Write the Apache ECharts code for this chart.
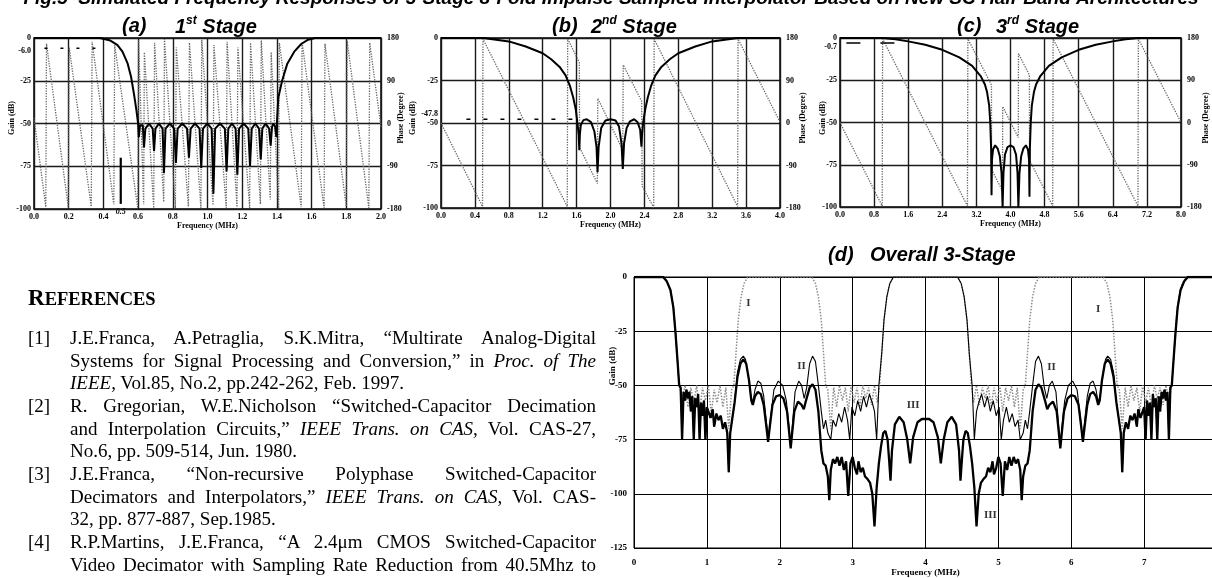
<!DOCTYPE html>
<html>
<head>
<meta charset="utf-8">
<title>Fig.5 Simulated Frequency Responses</title>
<script src="https://cdn.jsdelivr.net/npm/echarts@6/dist/echarts.min.js"></script>
<style>
  html, body { margin: 0; padding: 0; background: #fff; }
  #chart { position: absolute; left: 0; top: 0; width: 1212px; height: 578px; }
  #refs { position: absolute; left: 0; top: 0; font-family: "Liberation Serif", "Times New Roman", serif; color: #000; }
  #refs .hd { position: absolute; left: 28px; top: 284px; font-weight: bold; font-size: 18.5px; line-height: 28px; white-space: nowrap; }
  #refs .hd span { font-size: 23px; }
  #refs .num { position: absolute; left: 28px; font-size: 19px; line-height: 22.67px; }
  #refs .ln { position: absolute; left: 70px; width: 526px; height: 22.67px; font-size: 19px; line-height: 22.67px; text-align: justify; }
  #refs .ln.j { text-align-last: justify; }
</style>
</head>
<body>
<div id="chart"></div>
<div id="refs">
  <div class="hd"><span>R</span>EFERENCES</div>
  <div class="num" style="top:327px">[1]</div>
  <div class="ln j" style="top:327px">J.E.Franca, A.Petraglia, S.K.Mitra, “Multirate Analog-Digital</div>
  <div class="ln j" style="top:349.7px">Systems for Signal Processing and Conversion,” in <i>Proc. of The</i></div>
  <div class="ln" style="top:372.3px"><i>IEEE</i>, Vol.85, No.2, pp.242-262, Feb. 1997.</div>
  <div class="num" style="top:395px">[2]</div>
  <div class="ln j" style="top:395px">R. Gregorian, W.E.Nicholson “Switched-Capacitor Decimation</div>
  <div class="ln j" style="top:417.7px">and Interpolation Circuits,” <i>IEEE Trans. on CAS</i>, Vol. CAS-27,</div>
  <div class="ln" style="top:440.3px">No.6, pp. 509-514, Jun. 1980.</div>
  <div class="num" style="top:463px">[3]</div>
  <div class="ln j" style="top:463px">J.E.Franca, “Non-recursive Polyphase Switched-Capacitor</div>
  <div class="ln j" style="top:485.7px">Decimators and Interpolators,” <i>IEEE Trans. on CAS</i>, Vol. CAS-</div>
  <div class="ln" style="top:508.3px">32, pp. 877-887, Sep.1985.</div>
  <div class="num" style="top:531px">[4]</div>
  <div class="ln j" style="top:531px">R.P.Martins, J.E.Franca, “A 2.4μm CMOS Switched-Capacitor</div>
  <div class="ln j" style="top:553.7px">Video Decimator with Sampling Rate Reduction from 40.5Mhz to</div>
</div>
<script>
// values: [frequency (MHz), gain (dB) or phase (degree)]

// (a) 1st stage
const gainA = [[0,0],[0.38,0],[0.44,-1.5],[0.48,-4],[0.51,-8],[0.54,-15],[0.56,-23],[0.575,-32],[0.59,-42],[0.6,-50],
  [0.604,-58],[0.611,-51],[0.619,-50],[0.627,-51],[0.634,-64],[0.642,-53],[0.663,-50],[0.684,-53],[0.692,-66],[0.7,-53],
  [0.72,-50],[0.741,-53],[0.749,-79],[0.758,-53],[0.783,-50],[0.808,-53],[0.818,-73],[0.828,-53],[0.855,-50],[0.882,-53],
  [0.893,-70],[0.903,-53],[0.928,-50],[0.954,-53],[0.964,-76],[0.974,-53],[0.999,-50],[1.024,-53],[1.034,-91],[1.044,-53],
  [1.072,-50],[1.1,-53],[1.11,-78],[1.12,-53],[1.141,-50],[1.162,-53],[1.172,-80],[1.182,-53],[1.208,-50],[1.235,-53],
  [1.245,-75],[1.255,-53],[1.276,-50],[1.297,-53],[1.307,-71],[1.316,-53],[1.335,-50],[1.355,-53],[1.364,-63],[1.372,-52],
  [1.38,-50],[1.39,-52],[1.397,-58],[1.4,-50],[1.408,-35],[1.43,-25],[1.46,-15],[1.5,-8],[1.54,-3.5],[1.58,-1],[1.62,0],[2,0]];
const phaseA = [[0,12],[0.068,-176],[0.072,168],[0.198,-178],[0.203,160],[0.33,-175],[0.335,172],[0.46,-170],
  [0.465,165],[0.598,-178],[0.603,175],[0.632,-170],[0.636,150],[0.69,-178],[0.695,170],[0.748,-165],[0.752,178],
  [0.815,-178],[0.82,160],[0.89,-175],[0.896,170],[0.962,-178],[0.967,176],[1.032,-172],[1.037,165],[1.108,-178],
  [1.113,172],[1.17,-176],[1.175,160],[1.243,-178],[1.248,170],[1.305,-170],[1.31,175],[1.362,-160],[1.367,150],
  [1.41,-178],[1.414,170],[1.54,-176],[1.545,172],[1.672,-178],[1.677,168],[1.8,-175],[1.805,174],[1.93,-178],
  [1.935,170],[2,-8]];
const levelA = [[0.06,-6],[0.4,-6]];
const markA = [[0.5,-70],[0.5,-97]];

// (b) 2nd stage
const gainB = [[0,0],[0.5,0],[0.8,-2],[1,-5],[1.2,-9],[1.3,-12.5],[1.4,-17],[1.47,-22],[1.52,-28],[1.56,-35],[1.59,-42],
  [1.61,-50],[1.625,-57],[1.632,-66],[1.638,-57],[1.65,-51],[1.68,-48.3],[1.72,-47.8],[1.77,-49.5],[1.81,-55],[1.835,-64],
  [1.847,-79],[1.86,-64],[1.89,-53],[1.94,-48.5],[2,-47.8],[2.06,-48.5],[2.1,-52],[2.13,-62],[2.145,-77],[2.16,-62],
  [2.19,-53],[2.23,-49],[2.28,-47.8],[2.32,-49.5],[2.35,-54],[2.365,-64],[2.372,-57],[2.385,-50],[2.41,-42],[2.44,-35],
  [2.48,-28],[2.53,-22],[2.6,-17],[2.7,-12.5],[2.8,-9],[3,-5],[3.2,-2],[3.5,0],[4,0]];
const phaseB = [[0,0],[0.49,-177],[0.495,178],[1.49,-177],[1.495,178],[1.632,128],[1.636,-52],[1.845,-128],[1.85,52],
  [2.145,-57],[2.15,123],[2.368,46],[2.374,-134],[2.51,-179],[2.515,178],[3.5,-177],[3.505,178],[4,2]];
const levelB = [[0.3,-47.8],[1.55,-47.8]];

// (c) 3rd stage
const gainC = [[0,0],[1,0],[1.3,-0.8],[1.6,-2],[2,-4],[2.4,-7],[2.8,-11.5],[3.1,-16.5],[3.3,-22.5],[3.4,-27.5],[3.45,-32],
  [3.5,-40],[3.525,-50],[3.545,-65],[3.555,-93],[3.565,-72],[3.59,-66],[3.64,-63.5],[3.7,-65.5],[3.75,-70],[3.79,-80],
  [3.815,-100],[3.835,-80],[3.87,-69],[3.93,-64.5],[4,-63.5],[4.07,-64.5],[4.13,-69],[4.165,-80],[4.185,-100],[4.21,-80],
  [4.25,-70],[4.3,-65.5],[4.36,-63.5],[4.41,-66],[4.435,-72],[4.445,-94],[4.455,-65],[4.475,-50],[4.5,-40],[4.55,-32],
  [4.6,-27.5],[4.7,-22.5],[4.9,-16.5],[5.2,-11.5],[5.6,-7],[6,-4],[6.4,-2],[6.7,-0.8],[7,0],[8,0]];
const phaseC = [[0,0],[0.99,-178],[1,178],[2.99,-178],[3,178],[3.553,80],[3.557,-100],[3.813,-146],[3.817,34],
  [4.183,-32],[4.187,147],[4.443,101],[4.447,-80],[4.99,-178],[5,178],[6.99,-178],[7,178],[8,0]];
const levelC = [[0.15,-3],[1.35,-3]];

// extra level labels written on the gain axes
const levelText = ['-6.0', '-47.8', '-0.7'];
const levelValue = [-6, -47.8, -0.7];

// (d) overall 3-stage: I = 1st stage, II = 1st x 2nd, III = all three
const overallI = [[0,0],[0.4,0],[0.45,-2],[0.5,-6],[0.54,-14],[0.57,-26],[0.6,-40],[0.62,-50],
  [0.66,-56],[0.7,-50],[0.74,-60],[0.78,-51],[0.82,-58],[0.86,-50],[0.9,-62],[0.94,-51],[0.98,-57],[1.02,-50],[1.06,-63],
  [1.1,-52],[1.14,-58],[1.18,-50],[1.22,-60],[1.26,-51],[1.3,-70],[1.34,-52],[1.37,-50],
  [1.4,-35],[1.43,-20],[1.47,-9],[1.51,-3],[1.56,0],[2.44,0],[2.49,-3],[2.53,-9],[2.57,-20],[2.6,-35],[2.63,-50],
  [2.66,-52],[2.7,-70],[2.74,-51],[2.78,-60],[2.82,-50],[2.86,-57],[2.9,-51],[2.94,-62],[2.98,-50],[3.02,-58],[3.06,-51],
  [3.1,-60],[3.14,-50],[3.18,-56],[3.22,-51],[3.26,-59],[3.3,-50],[3.34,-58],[3.37,-50],
  [3.4,-35],[3.43,-20],[3.47,-9],[3.51,-3],[3.56,0],[4.44,0],[4.49,-3],[4.53,-9],[4.57,-20],[4.6,-35],[4.63,-50],
  [4.66,-58],[4.7,-50],[4.74,-59],[4.78,-51],[4.82,-56],[4.86,-50],[4.9,-60],[4.94,-51],[4.98,-58],[5.02,-50],[5.06,-62],
  [5.1,-51],[5.14,-57],[5.18,-50],[5.22,-60],[5.26,-51],[5.3,-70],[5.34,-52],[5.37,-50],
  [5.4,-35],[5.43,-20],[5.47,-9],[5.51,-3],[5.56,0],[6.44,0],[6.49,-3],[6.53,-9],[6.57,-20],[6.6,-35],[6.63,-50],
  [6.66,-52],[6.7,-70],[6.74,-51],[6.78,-60],[6.82,-50],[6.86,-57],[6.9,-51],[6.94,-62],[6.98,-50],[7.02,-58],[7.06,-51],
  [7.1,-60],[7.14,-50],[7.18,-56],[7.22,-51],[7.26,-59],[7.3,-50],[7.34,-58],[7.38,-50],
  [7.41,-35],[7.44,-20],[7.48,-9],[7.52,-3],[7.58,0],[8,0]];
const overallII = [[0,0],[0.4,0],[0.45,-2],[0.5,-6],[0.54,-14],[0.57,-26],[0.6,-40],[0.62,-50],[0.64,-51],[0.66,-75],
  [0.68,-53],[0.7,-57],[0.72,-52],[0.74,-56],[0.76,-53],[0.78,-62],[0.8,-55],[0.82,-75],[0.84,-56],[0.86,-60],[0.88,-54],
  [0.9,-75],[0.92,-58],[0.94,-64],[0.96,-57],[0.98,-75],[1,-60],[1.02,-62],[1.05,-65],[1.08,-61],[1.1,-69],[1.13,-63],
  [1.16,-66],[1.19,-64],[1.22,-70],[1.25,-67],[1.28,-72],[1.3,-90],[1.32,-72],[1.35,-65],[1.38,-58],
  [1.42,-44],[1.46,-38],[1.5,-36.5],[1.53,-38],[1.57,-46],[1.6,-54],[1.63,-58],[1.66,-52],[1.7,-48],[1.74,-49],[1.78,-55],
  [1.82,-68],[1.845,-75],[1.87,-66],[1.92,-52],[1.98,-48],[2.04,-50],[2.09,-57],[2.13,-70],[2.15,-78],[2.17,-70],[2.21,-53],
  [2.26,-48],[2.3,-50],[2.335,-56],[2.37,-51],[2.41,-40],[2.45,-36.5],[2.49,-39],[2.53,-50],[2.57,-62],[2.6,-70],[2.63,-66],
  [2.66,-72],[2.7,-75],[2.73,-66],[2.77,-69],[2.81,-63],[2.85,-67],[2.89,-60],[2.93,-66],[2.96,-75],[2.99,-60],[3.03,-64],
  [3.07,-57],[3.11,-62],[3.15,-55],[3.19,-60],[3.23,-54],[3.27,-58],[3.3,-62],[3.33,-75],[3.36,-50],[3.4,-35],[3.43,-20],
  [3.47,-9],[3.51,-3],[3.56,0],[4.44,0],[4.49,-3],[4.53,-9],[4.57,-20],[4.6,-35],[4.64,-50],[4.67,-75],[4.7,-62],[4.73,-58],
  [4.77,-54],[4.81,-60],[4.85,-55],[4.89,-62],[4.93,-57],[4.97,-64],[5.01,-60],[5.04,-75],[5.07,-66],[5.11,-60],[5.15,-67],
  [5.19,-63],[5.23,-69],[5.27,-66],[5.3,-75],[5.34,-72],[5.37,-66],[5.4,-70],[5.43,-62],[5.47,-50],[5.51,-39],[5.55,-36.5],
  [5.59,-40],[5.63,-51],[5.665,-56],[5.7,-50],[5.74,-48],[5.79,-53],[5.83,-70],[5.85,-78],[5.87,-70],[5.91,-57],[5.96,-50],
  [6.02,-48],[6.08,-52],[6.13,-66],[6.155,-75],[6.18,-68],[6.22,-55],[6.26,-49],[6.3,-48],[6.34,-52],[6.37,-58],[6.4,-54],
  [6.43,-46],[6.47,-38],[6.5,-36.5],[6.54,-38],[6.58,-44],[6.62,-58],[6.65,-65],[6.68,-72],[6.7,-90],[6.72,-72],[6.75,-67],
  [6.78,-70],[6.81,-64],[6.84,-66],[6.87,-63],[6.9,-69],[6.92,-61],[6.95,-65],[6.98,-62],[7,-60],[7.02,-75],[7.04,-57],
  [7.06,-64],[7.08,-58],[7.1,-75],[7.12,-54],[7.14,-60],[7.16,-56],[7.18,-75],[7.2,-55],[7.22,-62],[7.24,-53],[7.26,-56],
  [7.28,-52],[7.3,-57],[7.32,-53],[7.34,-75],[7.36,-51],[7.38,-50],[7.4,-40],[7.43,-26],[7.46,-14],[7.5,-6],[7.55,-2],
  [7.6,0],[8,0]];
const overallIII = [[0,0],[0.4,0],[0.45,-2],[0.5,-6],[0.54,-14],[0.57,-26],[0.6,-40],[0.62,-50],[0.64,-51],[0.66,-75],
  [0.68,-53],[0.7,-57],[0.72,-52],[0.74,-56],[0.76,-53],[0.78,-62],[0.8,-55],[0.82,-75],[0.84,-56],[0.86,-60],[0.88,-54],
  [0.9,-75],[0.92,-58],[0.94,-64],[0.96,-57],[0.98,-75],[1,-60],[1.02,-62],[1.05,-65],[1.08,-61],[1.1,-69],[1.13,-63],
  [1.16,-66],[1.19,-64],[1.22,-70],[1.25,-67],[1.28,-72],[1.3,-90],[1.32,-72],[1.35,-65],[1.38,-58],[1.42,-46],[1.46,-40],
  [1.5,-38],[1.54,-40],[1.58,-48],[1.61,-57],[1.63,-59],[1.66,-55],[1.7,-53],[1.74,-54],[1.78,-59],[1.82,-70],[1.84,-76],
  [1.86,-70],[1.9,-59],[1.95,-55],[2,-54.5],[2.05,-56],[2.1,-62],[2.13,-72],[2.15,-79],[2.17,-72],[2.2,-62],[2.25,-57.5],
  [2.3,-59],[2.33,-61],[2.36,-57],[2.41,-51],[2.45,-49.5],[2.49,-52],[2.53,-62],[2.57,-80],[2.6,-86],[2.63,-87],[2.66,-92],
  [2.68,-103],[2.7,-89],[2.73,-84],[2.76,-86],[2.79,-83],[2.82,-87],[2.85,-83],[2.88,-89],[2.91,-85],[2.94,-101],[2.97,-86],
  [3,-83],[3.03,-88],[3.06,-91],[3.08,-85],[3.11,-90],[3.14,-88],[3.17,-92],[3.2,-93],[3.24,-95],[3.27,-100],[3.3,-115],
  [3.33,-97],[3.36,-86],[3.39,-78],[3.42,-72],[3.45,-71],[3.48,-75],[3.5,-84],[3.52,-94],[3.54,-80],[3.58,-68],[3.64,-64.5],
  [3.7,-67],[3.75,-75],[3.79,-86],[3.83,-74],[3.89,-67],[3.95,-65.5],[4,-65.5],[4.05,-65.5],[4.11,-67],[4.17,-74],[4.21,-86],
  [4.25,-75],[4.3,-67],[4.36,-64.5],[4.42,-68],[4.46,-80],[4.48,-94],[4.5,-84],[4.52,-75],[4.55,-71],[4.58,-72],[4.61,-78],
  [4.64,-86],[4.67,-97],[4.7,-115],[4.73,-100],[4.76,-95],[4.8,-93],[4.83,-92],[4.86,-88],[4.89,-90],[4.92,-85],[4.94,-91],
  [4.97,-88],[5,-83],[5.03,-86],[5.06,-101],[5.09,-85],[5.12,-89],[5.15,-83],[5.18,-87],[5.21,-83],[5.24,-86],[5.27,-84],
  [5.3,-89],[5.32,-103],[5.34,-92],[5.37,-87],[5.4,-86],[5.43,-80],[5.47,-62],[5.51,-52],[5.55,-49.5],[5.59,-51],[5.64,-57],
  [5.67,-61],[5.7,-59],[5.75,-57.5],[5.8,-62],[5.83,-72],[5.85,-79],[5.87,-72],[5.9,-62],[5.95,-56],[6,-54.5],[6.05,-55],
  [6.1,-59],[6.14,-70],[6.16,-76],[6.18,-70],[6.22,-59],[6.26,-54],[6.3,-53],[6.34,-55],[6.37,-59],[6.39,-57],[6.42,-48],
  [6.46,-40],[6.5,-38],[6.54,-40],[6.58,-46],[6.62,-58],[6.65,-65],[6.68,-72],[6.7,-90],[6.72,-72],[6.75,-67],[6.78,-70],
  [6.81,-64],[6.84,-66],[6.87,-63],[6.9,-69],[6.92,-61],[6.95,-65],[6.98,-62],[7,-60],[7.02,-75],[7.04,-57],[7.06,-64],
  [7.08,-58],[7.1,-75],[7.12,-54],[7.14,-60],[7.16,-56],[7.18,-75],[7.2,-55],[7.22,-62],[7.24,-53],[7.26,-56],[7.28,-52],
  [7.3,-57],[7.32,-53],[7.34,-75],[7.36,-51],[7.38,-50],[7.4,-40],[7.43,-26],[7.46,-14],[7.5,-6],[7.55,-2],[7.6,0],[8,0]];
const curveTags = ['I', 'I', 'II', 'II', 'III', 'III'];
const curveTagAt = [[1.57,-12],[6.37,-15],[2.3,-41],[5.73,-41.5],[3.83,-59],[4.89,-110]];

const titleText = 'Fig.5  Simulated Frequency Responses of 3-Stage 8-Fold Impulse Sampled Interpolator Based on New SC Half-Band Architectures';

const serif = '"Liberation Serif", "Times New Roman", serif';
const sans = '"Liberation Sans", Arial, sans-serif';
const tickFont = { fontFamily: serif, fontWeight: 'bold', fontSize: 8, color: '#000' };

const chart = echarts.init(document.getElementById('chart'));

const stages = [
  { box: { left: 34, top: 38, width: 347, height: 171 }, max: 2, step: 0.2, gain: gainA, phase: phaseA, level: levelA, dash: [3, 13] },
  { box: { left: 441, top: 38, width: 339, height: 170 }, max: 4, step: 0.4, gain: gainB, phase: phaseB, level: levelB, dash: [4, 13] },
  { box: { left: 840, top: 38, width: 341, height: 169 }, max: 8, step: 0.8, gain: gainC, phase: phaseC, level: levelC, dash: [14, 20] }
];

const grid = [], xAxis = [], yAxis = [], series = [];

stages.forEach((s, i) => {
  grid.push(Object.assign({ show: true, borderColor: '#000', borderWidth: 1.5, outerBoundsMode: 'none' }, s.box));
  xAxis.push({
    gridIndex: i, type: 'value', min: 0, max: s.max, interval: s.step,
    axisLine: { show: false }, axisTick: { show: false },
    splitLine: { show: true, lineStyle: { color: '#1a1a1a', width: 1.4 } },
    axisLabel: Object.assign({ margin: 4, formatter: v => v.toFixed(1) }, tickFont),
    name: 'Frequency (MHz)', nameLocation: 'middle', nameGap: 11, nameTextStyle: tickFont
  });
  yAxis.push({
    gridIndex: i, type: 'value', min: -100, max: 0, interval: 25, position: 'left',
    axisLine: { show: false }, axisTick: { show: false },
    splitLine: { show: true, lineStyle: { color: '#1a1a1a', width: 1.4 } },
    axisLabel: Object.assign({ margin: 3 }, tickFont)
  });
  yAxis.push({
    gridIndex: i, type: 'value', min: -180, max: 180, interval: 90, position: 'right',
    axisLine: { show: false }, axisTick: { show: false }, splitLine: { show: false },
    axisLabel: Object.assign({ margin: 6 }, tickFont)
  });
  series.push({
    type: 'line', xAxisIndex: i, yAxisIndex: 2 * i + 1, data: s.phase, symbol: 'none', silent: true,
    lineStyle: { color: '#666', width: 1.3, type: 'dotted' }
  });
  series.push({
    type: 'line', xAxisIndex: i, yAxisIndex: 2 * i, data: s.level, symbol: 'none', silent: true,
    lineStyle: { color: '#000', width: 1.5, type: s.dash }
  });
  series.push({
    type: 'line', xAxisIndex: i, yAxisIndex: 2 * i, data: s.gain, symbol: 'none', silent: true,
    lineStyle: { color: '#000', width: 2 }
  });
});

series.push({
  type: 'line', xAxisIndex: 0, yAxisIndex: 0, data: markA, symbol: 'none', silent: true,
  lineStyle: { color: '#000', width: 2.2 }
});

// panel (d), its right edge (8 MHz) falls just past the page
grid.push({ left: 634, top: 277, width: 583, height: 271, show: true, borderColor: '#000', borderWidth: 1, outerBoundsMode: 'none' });
xAxis.push({
  gridIndex: 3, type: 'value', min: 0, max: 8, interval: 1,
  axisLine: { show: false }, axisTick: { show: false },
  splitLine: { show: true, lineStyle: { color: '#000', width: 1 } },
  axisLabel: Object.assign({}, tickFont, { margin: 10, fontSize: 9, formatter: v => (v < 8 ? String(v) : '') }),
  name: 'Frequency (MHz)', nameLocation: 'middle', nameGap: 19,
  nameTextStyle: Object.assign({}, tickFont, { fontSize: 9 })
});
yAxis.push({
  gridIndex: 3, type: 'value', min: -125, max: 0, interval: 25,
  axisLine: { show: false }, axisTick: { show: false },
  splitLine: { show: true, lineStyle: { color: '#000', width: 1 } },
  axisLabel: Object.assign({}, tickFont, { margin: 7, fontSize: 9 })
});
series.push({
  type: 'line', xAxisIndex: 3, yAxisIndex: 6, data: overallI, symbol: 'none', silent: true,
  lineStyle: { color: '#8c8c8c', width: 1.5, type: 'dotted' }
});
series.push({
  type: 'line', xAxisIndex: 3, yAxisIndex: 6, data: overallII, symbol: 'none', silent: true,
  lineStyle: { color: '#000', width: 1.1 }
});
series.push({
  type: 'line', xAxisIndex: 3, yAxisIndex: 6, data: overallIII, symbol: 'none', silent: true,
  lineStyle: { color: '#000', width: 2.3 }
});
series.push({
  type: 'scatter', xAxisIndex: 3, yAxisIndex: 6, symbolSize: 1, silent: true,
  itemStyle: { color: 'rgba(0,0,0,0)' },
  data: curveTags.map((t, k) => ({ name: t, value: curveTagAt[k] })),
  label: { show: true, position: 'inside', formatter: '{b}', fontFamily: serif, fontWeight: 'bold', fontSize: 11, color: '#000' }
});

const headFont = { fontFamily: sans, fontWeight: 'bold', fontStyle: 'italic', fontSize: 20, fill: '#000' };
function head(x, y, text) {
  return { type: 'text', x: x, y: y, style: Object.assign({ text: text, verticalAlign: 'middle' }, headFont) };
}
function stageHead(x, y, num, sup) {
  return {
    type: 'text', x: x, y: y,
    style: {
      text: '{n|' + num + '}{s|' + sup + '}{n| Stage}', verticalAlign: 'middle',
      rich: {
        n: Object.assign({ verticalAlign: 'bottom', lineHeight: 22 }, headFont),
        s: Object.assign({}, headFont, { fontSize: 12, verticalAlign: 'top', lineHeight: 22 })
      }
    }
  };
}
function sideName(x, y, text, size) {
  return {
    type: 'text', x: x, y: y, rotation: Math.PI / 2,
    style: { text: text, align: 'center', verticalAlign: 'middle', fontFamily: serif, fontWeight: 'bold', fontSize: size, fill: '#000' }
  };
}

chart.setOption({
  animation: false,
  backgroundColor: '#fff',
  grid: grid, xAxis: xAxis, yAxis: yAxis, series: series,
  graphic: [
    { type: 'text', x: 611, y: 8, style: { text: titleText, align: 'center', verticalAlign: 'bottom', fontFamily: sans, fontWeight: 'bold', fontStyle: 'italic', fontSize: 19, fill: '#000' } },
    head(122, 26, '(a)'), stageHead(175, 26, '1', 'st'),
    head(552, 26, '(b)'), stageHead(591, 26, '2', 'nd'),
    head(957, 26, '(c)'), stageHead(996, 26, '3', 'rd'),
    head(828, 255, '(d)'), head(870, 255, 'Overall 3-Stage'),
    sideName(12, 118, 'Gain (dB)', 8), sideName(401, 118, 'Phase (Degree)', 8),
    sideName(413, 118, 'Gain (dB)', 8), sideName(803, 118, 'Phase (Degree)', 8),
    sideName(823, 118, 'Gain (dB)', 8), sideName(1206, 118, 'Phase (Degree)', 8),
    sideName(613, 366, 'Gain (dB)', 9)
  ]
});

// level labels and the 0.5 MHz label, placed through the axes
const levelAxes = [0, 2, 4];
const levelShift = [3, -5, 7.5];
const extra = levelText.map((t, k) => {
  const p = chart.convertToPixel({ xAxisIndex: k, yAxisIndex: levelAxes[k] }, [0, levelValue[k]]);
  return { type: 'text', x: p[0] - 3, y: p[1] + levelShift[k], style: Object.assign({ text: t, align: 'right', verticalAlign: 'middle' }, tickFont, { fill: '#000' }) };
});
const p05 = chart.convertToPixel({ xAxisIndex: 0, yAxisIndex: 0 }, [markA[0][0], -100]);
extra.push({ type: 'text', x: p05[0], y: p05[1] + 3, style: { text: '0.5', align: 'center', verticalAlign: 'middle', fontFamily: serif, fontWeight: 'bold', fontStyle: 'italic', fontSize: 8, fill: '#000' } });

chart.setOption({ graphic: extra.map((g, k) => Object.assign({ id: 'extra' + k }, g)) });
</script>
</body>
</html>
